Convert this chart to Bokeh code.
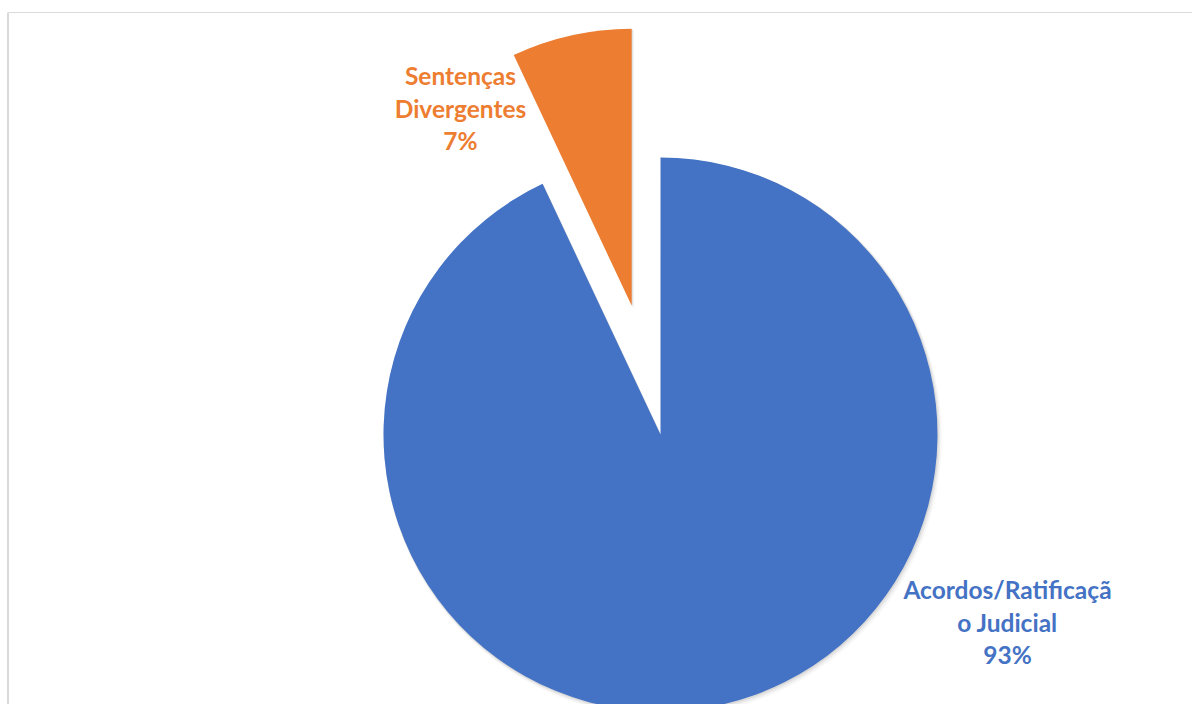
import math
from bokeh.plotting import figure
from bokeh.models import Range1d
from bokeh.core.properties import value
from bokeh.embed import file_html
from bokeh.resources import INLINE

# ---- data ----
categories = ["Acordos/Ratificação Judicial", "Sentenças Divergentes"]
percentages = [93, 7]
label_lines = [["Acordos/Ratificaçã", "o Judicial", "93%"],
               ["Sentenças", "Divergentes", "7%"]]
colors = ["#4472C4", "#ED7D31"]
explode = [0, 132]

# ---- layout (pixel units) ----
W, H = 1192, 704
cx, cy = 660, H - 434
R = 277
label_pos = [(1007, H - 589), (460, H - 75)]
line_gap = 32.5
FONT = "Lato"

p = figure(width=W, height=H, output_backend="svg", toolbar_location=None,
           x_range=Range1d(0, W), y_range=Range1d(0, H),
           x_axis_location=None, y_axis_location=None, min_border=0)
p.grid.visible = False
p.outline_line_color = None
p.background_fill_color = "white"
p.border_fill_color = "white"

# chart-area border
p.segment(x0=[8], y0=[H - 12], x1=[W + 10], y1=[H - 12], line_color="#d9d9d9", line_width=1)
p.segment(x0=[7.5], y0=[H - 12], x1=[7.5], y1=[-10], line_color="#d9d9d9", line_width=2)

total = sum(percentages)
cum = 0.0
wedges = []
for i, v in enumerate(percentages):
    c0 = cum / total
    cum += v
    c1 = cum / total
    start = math.pi / 2 - c1 * 2 * math.pi
    end = math.pi / 2 - c0 * 2 * math.pi
    mid = (start + end) / 2
    x = cx + explode[i] * math.cos(mid)
    y = cy + explode[i] * math.sin(mid)
    wedges.append((x, y, start, end))

# soft shadow
for (x, y, s, e) in wedges:
    for k, a in [(4, 0.03), (2.5, 0.05), (1.2, 0.07)]:
        p.wedge(x=[x + k * 0.6], y=[y - k * 0.8], radius=R + k * 0.5, start_angle=s, end_angle=e,
                fill_color="black", fill_alpha=a, line_color=None)
for i, (x, y, s, e) in enumerate(wedges):
    p.wedge(x=[x], y=[y], radius=R, start_angle=s, end_angle=e,
            fill_color=colors[i], line_color=None)

for i, lines in enumerate(label_lines):
    lx, ly = label_pos[i]
    p.text(x=[lx] * len(lines), y=[ly - j * line_gap for j in range(len(lines))], text=lines,
           text_color=colors[i], text_font=value(FONT), text_font_style="bold",
           text_font_size="24.5px", text_align="center", text_baseline="middle")

open("out.html", "w").write(file_html(p, INLINE))
